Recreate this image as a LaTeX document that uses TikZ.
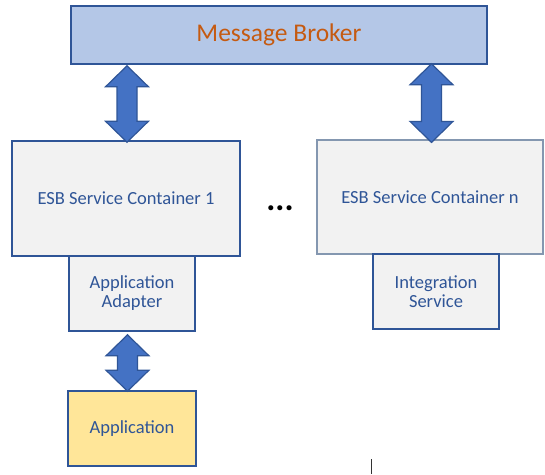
\documentclass[tikz,border=0pt]{standalone}
\usepackage{fontspec}
\setmainfont{Carlito}
\usetikzlibrary{calc}
\definecolor{bord}{HTML}{2F5597}
\definecolor{bordgray}{HTML}{8497B0}
\definecolor{mbfill}{HTML}{B4C7E7}
\definecolor{boxfill}{HTML}{F2F2F2}
\definecolor{appfill}{HTML}{FFE699}
\definecolor{arrfill}{HTML}{4472C4}
\definecolor{txtblue}{HTML}{2F5597}
\definecolor{txtorange}{HTML}{C55A11}
\tikzset{
  box/.style={draw=bord, line width=1.6pt, fill=boxfill, text=txtblue,
    font=\fontsize{18.5pt}{19pt}\selectfont, align=center, inner sep=0pt},
  blockarrow/.style={fill=arrfill, draw=bord, line width=1.2pt, line join=miter}
}
\newcommand{\dblarr}[2]{%
  \path[blockarrow] let \p1=(#1), \p2=(#2) in
    (\x1,\y1) -- (\x1+21.5pt,\y1-21pt) -- (\x1+10pt,\y1-21pt) -- (\x1+10pt,\y2+21pt)
    -- (\x1+21.5pt,\y2+21pt) -- (\x1,\y2) -- (\x1-21.5pt,\y2+21pt) -- (\x1-10pt,\y2+21pt)
    -- (\x1-10pt,\y1-21pt) -- (\x1-21.5pt,\y1-21pt) -- cycle;}
\begin{document}
\begin{tikzpicture}[x=1pt,y=-1pt]
\useasboundingbox[fill=white] (0,0) rectangle (545,474);
\node[box, fill=mbfill, text=txtorange, font=\fontsize{25.5pt}{28pt}\selectfont,
  minimum width=416pt, minimum height=58pt] (mb) at (279,35) {Message Broker};
\node[box, minimum width=228pt, minimum height=115pt] (c1) at (126,198.5) {ESB Service Container 1};
\node[box, minimum width=126pt, minimum height=75pt] (ad) at (132,293.5) {Application\\Adapter};
\node[box, draw=bordgray, line width=1.2pt, minimum width=226pt, minimum height=114pt] (cn) at (430,197) {ESB Service Container n};
\node[box, minimum width=126pt, minimum height=75pt] (is) at (436,291.5) {Integration\\Service};
\node[box, fill=appfill, minimum width=128pt, minimum height=75pt] (app) at (132,428.5) {Application};
\node[font=\fontsize{34pt}{36pt}\selectfont\bfseries, inner sep=0pt] (dots) at (280,208) {...};
\coordinate (a1t) at ($(mb.south -| c1.center)+(1,1)$);
\coordinate (a1b) at ($(c1.north)+(1,2)$);
\coordinate (a2t) at ($(mb.south -| cn.center)+(1.5,-1)$);
\coordinate (a2b) at ($(cn.north)+(1.5,3)$);
\coordinate (a3t) at ($(ad.south -| c1.center)+(1.5,3)$);
\coordinate (a3b) at ($(app.north -| c1.center)+(1.5,1)$);
\dblarr{a1t}{a1b}
\dblarr{a2t}{a2b}
\dblarr{a3t}{a3b}
\coordinate (s1) at (371,459);
\coordinate (s2) at (371,474);
\draw[line width=1pt, black!80] (s1) -- (s2);
\end{tikzpicture}
\end{document}
